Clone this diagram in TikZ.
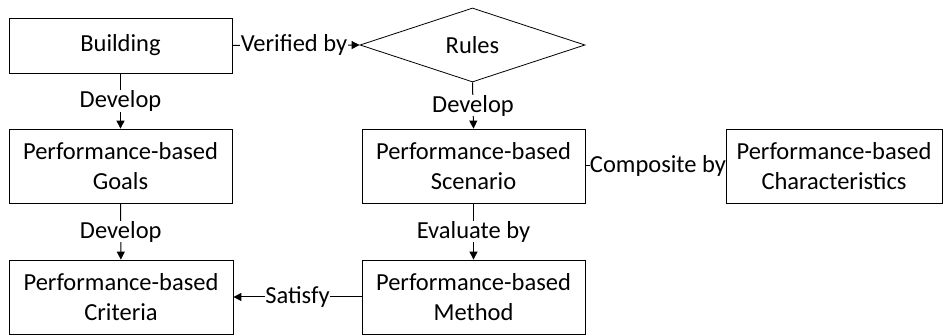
\documentclass[tikz,border=0pt]{standalone}
\usepackage{fontspec}
\setmainfont{Carlito}
\usetikzlibrary{shapes.geometric,arrows.meta}

\tikzset{
  box/.style={draw=black, line width=0.8pt, fill=white, align=center, inner sep=0pt,
    font=\fontsize{24.5}{30}\selectfont},
  decision/.style={draw=black, line width=0.8pt, diamond, inner sep=0pt,
    font=\fontsize{24.5}{30}\selectfont},
  conn/.style={line width=1pt, -{Triangle[width=8pt,length=8pt]}},
  plain/.style={line width=1pt},
  tag/.style={fill=white, inner sep=0.5pt, font=\fontsize{24.5}{30}\selectfont}
}

\begin{document}
\begin{tikzpicture}[x=1pt,y=1pt]
  \useasboundingbox (0,0) rectangle (944,-336);

  % left column
  \node[box, minimum width=223pt, minimum height=55pt] (building) at (120.5,-45.5) {Building};
  \node[box, minimum width=223pt, minimum height=74pt] (goals) at (120.5,-166) {Performance-based\\Goals};
  \node[box, minimum width=224pt, minimum height=74pt] (criteria) at (121,-297) {Performance-based\\Criteria};

  % middle column
  \node[decision, minimum width=225pt, minimum height=74pt] (rules) at (472.5,-45) {Rules};
  \node[box, minimum width=223pt, minimum height=74pt] (scenario) at (473.5,-166) {Performance-based\\Scenario};
  \node[box, minimum width=223pt, minimum height=74pt] (method) at (473.5,-297) {Performance-based\\Method};

  % right column
  \node[box, minimum width=216pt, minimum height=74pt] (chars) at (834,-166) {Performance-based\\Characteristics};

  % connectors
  \draw[conn] (building) -- node[tag] {Develop} (goals);
  \draw[conn] (goals) -- node[tag] {Develop} (criteria);
  \draw[conn] (building.east) -- node[tag, xshift=-2pt] {Verified by} (rules.west);
  \draw[conn] (rules.south) -- node[tag] {Develop} (scenario.north);
  \draw[conn] (scenario) -- node[tag] {Evaluate by} (method);
  \draw[conn] (method.west) -- node[tag] {Satisfy} (criteria.east);
  \draw[plain] (scenario.east) -- node[tag, inner sep=0pt, xshift=2.5pt] {Composite by} (chars.west);
\end{tikzpicture}
\end{document}
